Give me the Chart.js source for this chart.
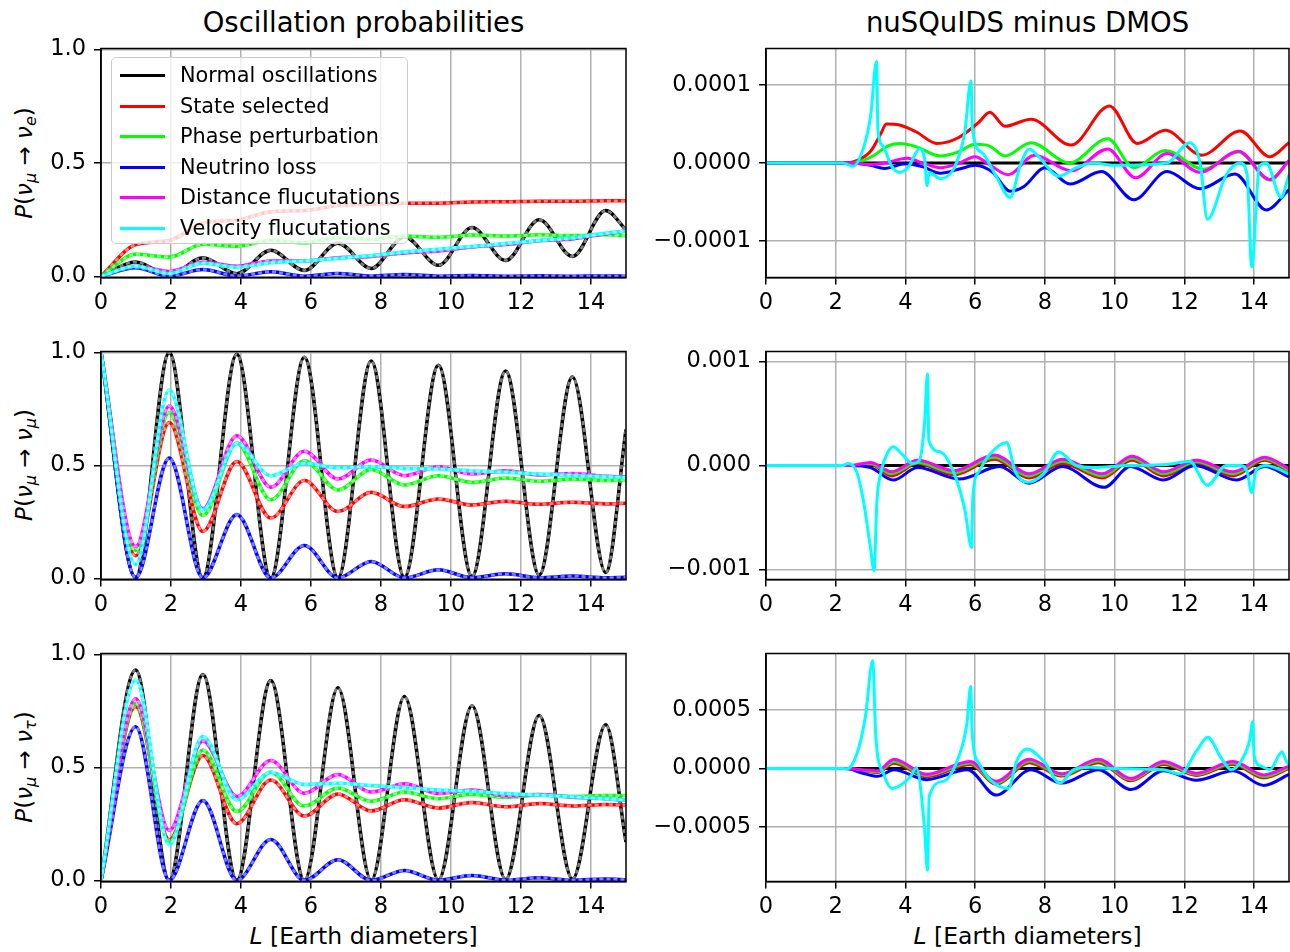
<!DOCTYPE html>
<html>
<head>
<meta charset="utf-8">
<script src="https://cdn.jsdelivr.net/npm/chart.js@4.4.1/dist/chart.umd.min.js"></script>
<style>
  body { margin: 0; background: #fff; width: 1290px; height: 952px; overflow: hidden; position: relative; font-family: "DejaVu Sans", sans-serif; color: #000; }
  canvas { position: absolute; }
  .title { position: absolute; top: 6px; font-size: 27.5px; text-align: center; white-space: nowrap; }
  .xlab { position: absolute; top: 922px; font-size: 23.5px; text-align: center; white-space: nowrap; }
  .ylab { position: absolute; left: 25px; font-size: 23px; white-space: nowrap; transform: translate(-50%, -50%) rotate(-90deg); }
  .ylab sub { font-size: 16px; vertical-align: -4px; }
  #legend { position: absolute; left: 111px; top: 57px; width: 297px; height: 187px; background: rgba(255,255,255,0.8); border: 1px solid #cccccc; border-radius: 5px; box-sizing: border-box; z-index: 5; }
  .lrow { position: absolute; left: 0; height: 30px; width: 100%; font-size: 20.8px; }
  .lrow span.sw { position: absolute; left: 8px; top: 13px; width: 45px; height: 3px; }
  .lrow span.tx { position: absolute; left: 68px; top: 2px; white-space: nowrap; }
</style>
</head>
<body>

<div class="title" style="left:101px;width:525px">Oscillation probabilities</div>
<div class="title" style="left:766px;width:523px">nuSQuIDS minus DMOS</div>

<div class="ylab" style="top:163px"><i>P</i>(<i>ν</i><sub><i>μ</i></sub> → <i>ν</i><sub><i>e</i></sub>)</div>
<div class="ylab" style="top:465px"><i>P</i>(<i>ν</i><sub><i>μ</i></sub> → <i>ν</i><sub><i>μ</i></sub>)</div>
<div class="ylab" style="top:767px"><i>P</i>(<i>ν</i><sub><i>μ</i></sub> → <i>ν</i><sub><i>τ</i></sub>)</div>

<div class="xlab" style="left:101px;width:525px"><i>L</i> [Earth diameters]</div>
<div class="xlab" style="left:766px;width:523px"><i>L</i> [Earth diameters]</div>

<div id="legend"></div>

<script>
// series names and colours
const NAMES = ['Normal oscillations', 'State selected', 'Phase perturbation', 'Neutrino loss', 'Distance flucutations', 'Velocity flucutations'];
const COLORS = ['#000000', '#ff0000', '#00ff00', '#0000ff', '#ff00ff', '#00ffff'];

const xTicks = [0, 2, 4, 6, 8, 10, 12, 14];
const probTicks = [0, 0.5, 1];

// left column: sampled at the oscillation extrema
const L_EXT = [0, 0.99, 1.95, 2.91, 3.88, 4.85, 5.81, 6.77, 7.72, 8.67, 9.64, 10.6, 11.56, 12.52, 13.47, 14.42, 15];

// P(numu -> nue)
const eNormal = [0, 0.063, 0.004, 0.082, 0.012, 0.115, 0.026, 0.146, 0.035, 0.175, 0.049, 0.215, 0.070, 0.250, 0.088, 0.290, 0.205];
const eState  = [0, 0.140, 0.158, 0.235, 0.248, 0.285, 0.290, 0.312, 0.318, 0.323, 0.323, 0.328, 0.329, 0.331, 0.331, 0.333, 0.333];
const ePhase  = [0, 0.097, 0.085, 0.142, 0.133, 0.158, 0.148, 0.170, 0.163, 0.178, 0.172, 0.182, 0.178, 0.183, 0.180, 0.183, 0.180];
const eLoss   = [0, 0.038, 0.001, 0.030, 0.002, 0.020, 0.001, 0.013, 0.001, 0.008, 0.001, 0.004, 0.001, 0.003, 0.001, 0.002, 0.001];
const eDist   = [0, 0.045, 0.022, 0.062, 0.045, 0.068, 0.068, 0.082, 0.088, 0.103, 0.112, 0.130, 0.140, 0.157, 0.165, 0.188, 0.200];
const eVel    = [0, 0.045, 0.012, 0.058, 0.040, 0.060, 0.068, 0.080, 0.092, 0.107, 0.120, 0.132, 0.145, 0.158, 0.170, 0.190, 0.200];

// P(numu -> numu)
const mNormal = [1, 0.005, 1.000, 0.003, 0.993, 0.002, 0.980, 0.003, 0.963, 0.005, 0.944, 0.009, 0.919, 0.016, 0.892, 0.026, 0.660];
const mState  = [1, 0.100, 0.690, 0.208, 0.518, 0.267, 0.433, 0.296, 0.381, 0.318, 0.352, 0.325, 0.342, 0.328, 0.337, 0.330, 0.333];
const mPhase  = [1, 0.124, 0.735, 0.278, 0.600, 0.348, 0.521, 0.392, 0.482, 0.414, 0.455, 0.425, 0.445, 0.430, 0.440, 0.433, 0.437];
const mLoss   = [1, 0.003, 0.533, 0.002, 0.283, 0.002, 0.146, 0.002, 0.075, 0.002, 0.038, 0.003, 0.020, 0.003, 0.010, 0.003, 0.005];
const mDist   = [1, 0.141, 0.764, 0.308, 0.632, 0.404, 0.563, 0.440, 0.524, 0.455, 0.495, 0.462, 0.477, 0.458, 0.465, 0.452, 0.450];
const mVel    = [1, 0.062, 0.834, 0.303, 0.598, 0.455, 0.510, 0.490, 0.495, 0.487, 0.484, 0.476, 0.470, 0.462, 0.456, 0.450, 0.447];

// P(numu -> nutau)
const tNormal = [0, 0.932, 0.000, 0.912, 0.000, 0.885, 0.000, 0.853, 0.001, 0.814, 0.002, 0.774, 0.004, 0.730, 0.006, 0.689, 0.170];
const tState  = [0, 0.770, 0.180, 0.553, 0.251, 0.445, 0.285, 0.383, 0.307, 0.357, 0.320, 0.345, 0.326, 0.340, 0.330, 0.336, 0.334];
const tPhase  = [0, 0.785, 0.168, 0.578, 0.305, 0.479, 0.329, 0.409, 0.350, 0.391, 0.362, 0.382, 0.368, 0.378, 0.372, 0.376, 0.376];
const tLoss   = [0, 0.681, 0.000, 0.354, 0.000, 0.181, 0.000, 0.091, 0.000, 0.044, 0.001, 0.022, 0.001, 0.012, 0.001, 0.006, 0.003];
const tDist   = [0, 0.804, 0.221, 0.619, 0.372, 0.531, 0.386, 0.469, 0.391, 0.428, 0.385, 0.400, 0.375, 0.380, 0.368, 0.362, 0.355];
const tVel    = [0, 0.888, 0.158, 0.637, 0.357, 0.479, 0.425, 0.430, 0.420, 0.410, 0.400, 0.395, 0.385, 0.378, 0.370, 0.362, 0.355];

// right column, nue difference (units of 1e-4)
const deNormalL = [0, 15];
const deNormal  = [0, 0];
const deStateL = [0, 2.2, 2.6, 3.0, 3.3, 3.45, 3.8, 4.3, 4.9, 5.5, 6.1, 6.42, 6.85, 7.6, 8.75, 9.85, 10.65, 11.45, 12.5, 13.6, 14.45, 15];
const deState  = [0, 0, 0.03, 0.15, 0.38, 0.5, 0.49, 0.4, 0.25, 0.32, 0.52, 0.65, 0.47, 0.56, 0.23, 0.73, 0.25, 0.42, 0.1, 0.41, 0.08, 0.26];
const dePhaseL = [0, 2.3, 2.7, 3.1, 3.5, 3.85, 4.3, 5.0, 5.5, 6.0, 6.4, 6.85, 7.6, 8.7, 9.8, 10.55, 11.45, 12.55, 13.55, 14.45, 15];
const dePhase  = [0, 0, 0.02, 0.1, 0.22, 0.25, 0.21, 0.09, 0.14, 0.24, 0.22, 0.09, 0.26, 0.0, 0.31, -0.06, 0.16, -0.08, 0.14, -0.22, 0.03];
const deLossL = [0, 2.4, 3.0, 3.4, 4.0, 4.5, 5.0, 5.6, 6.0, 6.5, 7.0, 7.4, 8.0, 8.72, 9.62, 10.55, 11.5, 12.45, 13.45, 14.35, 15];
const deLoss  = [0, 0, -0.03, -0.07, -0.01, -0.05, -0.13, -0.07, -0.03, -0.12, -0.36, -0.3, -0.06, -0.27, -0.11, -0.47, -0.11, -0.33, -0.14, -0.6, -0.34];
const deDistL = [0, 2.4, 3.0, 3.4, 4.05, 4.5, 5.0, 5.5, 6.0, 6.4, 6.95, 7.7, 8.75, 9.8, 10.6, 11.5, 12.45, 13.55, 14.45, 15];
const deDist  = [0, 0, -0.02, 0.0, 0.06, 0.0, -0.06, -0.01, 0.08, -0.02, -0.15, 0.1, -0.1, 0.18, -0.19, 0.12, -0.12, 0.15, -0.21, 0.03];
const deVelL = [0, 2.2, 2.5, 2.8, 3.0, 3.17, 3.21, 3.35, 3.6, 3.85, 4.1, 4.4, 4.55, 4.62, 4.68, 5.0, 5.4, 5.7, 5.88, 5.92, 6.2, 6.6, 7.0, 7.3, 7.55, 7.8, 8.4, 8.9, 9.4, 10.0, 11.5, 12.15, 12.45, 12.66, 13.2, 13.6, 13.8, 13.93, 14.15, 14.35, 14.77, 15];
const deVel  = [0, 0, -0.04, 0.2, 0.6, 1.3, 0.43, 0.22, -0.04, -0.12, -0.04, 0.18, 0.05, -0.29, -0.12, -0.2, -0.06, 0.39, 1.05, 0.43, 0.13, -0.17, -0.44, -0.02, 0.18, 0.09, -0.17, -0.06, 0.0, -0.03, 0.0, 0.26, 0.0, -0.72, -0.15, 0.0, -0.15, -1.33, -0.04, 0.0, -0.44, -0.15];

// numu difference (units of 1e-3)
const dmNormalL = [0, 15];
const dmNormal  = [0, 0];
const dmOscL   = [0, 2.4, 3.0, 3.6, 4.35, 5.4, 6.55, 7.55, 8.5, 9.65, 10.5, 11.4, 12.35, 13.4, 14.3, 15];
const dmState  = [0, 0, 0.01, -0.1, 0.02, -0.09, 0.06, -0.12, 0.02, -0.12, 0.05, -0.1, 0.02, -0.1, 0.05, -0.06];
const dmPhase  = [0, 0, 0.02, -0.08, 0.03, -0.07, 0.08, -0.1, 0.04, -0.1, 0.07, -0.08, 0.035, -0.08, 0.065, -0.045];
const dmDist   = [0, 0, 0.03, -0.06, 0.05, -0.05, 0.1, -0.08, 0.06, -0.08, 0.09, -0.06, 0.05, -0.06, 0.08, -0.03];
const dmLossL = [0, 2.4, 3.0, 3.65, 4.35, 5.55, 6.7, 7.55, 8.5, 9.7, 10.45, 11.4, 12.3, 13.5, 14.3, 15];
const dmLoss  = [0, 0, -0.02, -0.14, -0.02, -0.13, -0.01, -0.17, -0.01, -0.21, -0.01, -0.14, 0.0, -0.14, -0.01, -0.11];
const dmVelL = [0, 2.2, 2.35, 2.6, 2.8, 3.0, 3.1, 3.18, 3.3, 3.5, 3.65, 3.9, 4.2, 4.4, 4.55, 4.63, 4.67, 5.0, 5.4, 5.7, 5.9, 5.93, 6.1, 6.4, 6.9, 7.15, 7.5, 7.96, 8.39, 8.9, 9.4, 10.3, 11.5, 12.15, 12.66, 13.2, 13.6, 13.8, 13.93, 14.06, 14.35, 15];
const dmVel  = [0, 0, 0.02, -0.06, -0.35, -0.8, -1.01, -0.35, -0.06, 0.13, 0.18, 0.11, 0.02, 0.05, 0.42, 0.88, 0.24, 0.13, -0.08, -0.42, -0.79, -0.32, -0.06, 0.1, 0.22, -0.06, -0.16, -0.08, 0.13, 0.0, -0.02, 0.0, 0.01, 0.04, -0.19, 0.0, 0.0, -0.06, -0.26, -0.04, 0.0, -0.08];

// nutau difference (units of 1e-4)
const dtNormalL = [0, 15];
const dtNormal  = [0, 0];
const dtOscL   = [0, 2.3, 2.7, 3.2, 3.67, 4.6, 5.85, 6.6, 7.55, 8.48, 9.53, 10.47, 11.4, 12.35, 13.4, 14.28, 15];
const dtState  = [0, 0, -0.15, -0.35, 0.45, -0.7, 0.35, -1.35, 0.5, -0.65, 0.5, -1.05, 0.35, -0.6, 0.35, -0.8, 0.0];
const dtPhase  = [0, 0, -0.12, -0.28, 0.6, -0.6, 0.48, -1.25, 0.65, -0.55, 0.65, -0.95, 0.48, -0.5, 0.48, -0.68, 0.1];
const dtDist   = [0, 0, -0.1, -0.2, 0.8, -0.5, 0.6, -1.1, 0.8, -0.45, 0.8, -0.85, 0.6, -0.4, 0.6, -0.55, 0.2];
const dtLossL = [0, 2.3, 2.75, 3.2, 3.67, 4.6, 5.78, 6.6, 7.6, 8.48, 9.53, 10.47, 11.4, 12.35, 13.4, 14.28, 15];
const dtLoss  = [0, 0, -0.38, -0.67, -0.1, -0.96, -0.1, -2.27, -0.1, -1.25, -0.1, -1.8, -0.2, -1.0, -0.2, -1.45, -0.5];
const dtVelL = [0, 2.2, 2.3, 2.6, 2.85, 3.06, 3.15, 3.38, 3.61, 4.14, 4.31, 4.55, 4.63, 4.68, 5.08, 5.55, 5.76, 5.87, 5.92, 6.13, 6.48, 6.95, 7.19, 7.48, 8.0, 8.42, 8.83, 9.3, 10.0, 11.4, 11.88, 12.35, 12.67, 13.05, 13.34, 13.63, 13.87, 13.96, 14.0, 14.2, 14.45, 14.8, 14.92, 15];
const dtVel  = [0, 0, -0.05, 1.2, 4.4, 9.2, 2.7, -0.5, -1.7, -0.7, 0.06, -5.2, -8.7, -2.4, -1.1, 1.2, 3.8, 7.0, 2.7, 0.35, -1.1, -1.7, 0.64, 1.66, 0.5, -1.25, -0.1, 0.1, 0.0, -0.1, -0.47, 1.5, 2.67, 0.93, -0.1, 0.64, 2.4, 4.0, 1.1, 0.2, -0.1, 1.4, 0.64, 0.3];

// panel geometry (plot area in page pixels)
const ROWS = [[48, 277], [351, 579], [653, 881]];
const LEFT_COL = [101, 626];
const RIGHT_COL = [766, 1289];
const PAD_T = 16, PAD_B = 48, PAD_R = 6;

function fmtTick(d) {
  return v => v.toFixed(d).replace('-', '\u2212');
}

const framePlugin = {
  id: 'frame',
  afterDraw(chart) {
    const a = chart.chartArea, c = chart.ctx;
    c.save();
    c.strokeStyle = '#000';
    c.lineWidth = 1.5;
    c.strokeRect(a.left, a.top, a.right - a.left, a.bottom - a.top);
    c.restore();
  }
};

// chart.js paints low "order" on top, so later series get a lower order
function leftSets(series) {
  const out = [];
  series.forEach((ys, i) => {
    const pts = L_EXT.map((x, k) => ({ x: x, y: ys[k] }));
    out.push({ data: pts, borderColor: COLORS[i], borderWidth: 3.5, order: 100 - 2 * i });
    out.push({ data: pts, borderColor: 'rgba(255,255,255,0.5)', borderWidth: 2.6, borderDash: [4, 3], order: 99 - 2 * i });
  });
  return out;
}

function rightSets(series, unit) {
  return series.map((s, i) => ({
    data: s[0].map((x, k) => ({ x: x, y: s[1][k] * unit })),
    borderColor: COLORS[i],
    borderWidth: 3,
    order: 100 - i
  }));
}

function makePanel(col, row, padL, datasets, ymin, ymax, yTicks, yFmt) {
  const cv = document.createElement('canvas');
  const plotW = col[1] - col[0], plotH = row[1] - row[0];
  const w = plotW + padL + PAD_R;
  const h = plotH + PAD_T + PAD_B;
  cv.width = w; cv.height = h;
  cv.style.width = w + 'px';
  cv.style.height = h + 'px';
  document.body.appendChild(cv);

  const tickFont = { family: 'DejaVu Sans', size: 22.5 };
  const chart = new Chart(cv, {
    type: 'line',
    data: { datasets: datasets },
    plugins: [framePlugin],
    options: {
      responsive: false,
      maintainAspectRatio: false,
      animation: false,
      layout: { padding: { top: PAD_T, right: PAD_R, left: 0, bottom: 0 } },
      plugins: { legend: { display: false }, tooltip: { enabled: false } },
      elements: {
        point: { radius: 0 },
        line: { cubicInterpolationMode: 'monotone', fill: false }
      },
      scales: {
        x: {
          type: 'linear', min: 0, max: 15,
          afterBuildTicks: s => { s.ticks = xTicks.map(v => ({ value: v })); },
          afterFit: s => { s.height = PAD_B; },
          grid: { color: '#b0b0b0', lineWidth: 1.5, tickLength: 7, tickColor: '#000', tickWidth: 1.5 },
          border: { color: '#000', width: 1.5 },
          ticks: { color: '#000', font: tickFont, padding: 5, maxRotation: 0, autoSkip: false, callback: v => String(v) }
        },
        y: {
          type: 'linear', min: ymin, max: ymax,
          afterBuildTicks: s => { s.ticks = yTicks.map(v => ({ value: v })); },
          afterFit: s => { s.width = padL; },
          grid: { color: '#b0b0b0', lineWidth: 1.5, tickLength: 7, tickColor: '#000', tickWidth: 1.5 },
          border: { color: '#000', width: 1.5 },
          ticks: { color: '#000', font: tickFont, padding: 8, autoSkip: false, callback: yFmt }
        }
      }
    }
  });

  // make the plot area land exactly on the wanted page rectangle
  const a = chart.chartArea;
  chart.resize(w + plotW - (a.right - a.left), h + plotH - (a.bottom - a.top));
  const b = chart.chartArea;
  cv.style.left = (col[0] - b.left) + 'px';
  cv.style.top = (row[0] - b.top) + 'px';
}

// left column
makePanel(LEFT_COL, ROWS[0], 101, leftSets([eNormal, eState, ePhase, eLoss, eDist, eVel]), -0.005, 1.005, probTicks, fmtTick(1));
makePanel(LEFT_COL, ROWS[1], 101, leftSets([mNormal, mState, mPhase, mLoss, mDist, mVel]), -0.005, 1.005, probTicks, fmtTick(1));
makePanel(LEFT_COL, ROWS[2], 101, leftSets([tNormal, tState, tPhase, tLoss, tDist, tVel]), -0.005, 1.005, probTicks, fmtTick(1));

// right column
makePanel(RIGHT_COL, ROWS[0], 130, rightSets([
  [deNormalL, deNormal], [deStateL, deState], [dePhaseL, dePhase],
  [deLossL, deLoss], [deDistL, deDist], [deVelL, deVel]], 1e-4),
  -1.465e-4, 1.465e-4, [-1e-4, 0, 1e-4], fmtTick(4));
makePanel(RIGHT_COL, ROWS[1], 130, rightSets([
  [dmNormalL, dmNormal], [dmOscL, dmState], [dmOscL, dmPhase],
  [dmLossL, dmLoss], [dmOscL, dmDist], [dmVelL, dmVel]], 1e-3),
  -1.096e-3, 1.096e-3, [-1e-3, 0, 1e-3], fmtTick(3));
makePanel(RIGHT_COL, ROWS[2], 130, rightSets([
  [dtNormalL, dtNormal], [dtOscL, dtState], [dtOscL, dtPhase],
  [dtLossL, dtLoss], [dtOscL, dtDist], [dtVelL, dtVel]], 1e-4),
  -0.966e-3, 0.983e-3, [-5e-4, 0, 5e-4], fmtTick(4));

// legend inside the first panel
const legend = document.getElementById('legend');
NAMES.forEach((name, i) => {
  const row = document.createElement('div');
  row.className = 'lrow';
  row.style.top = (3 + i * 30.6) + 'px';
  row.innerHTML = '<span class="sw" style="background:' + COLORS[i] + '"></span><span class="tx">' + name + '</span>';
  legend.appendChild(row);
});
</script>
</body>
</html>
